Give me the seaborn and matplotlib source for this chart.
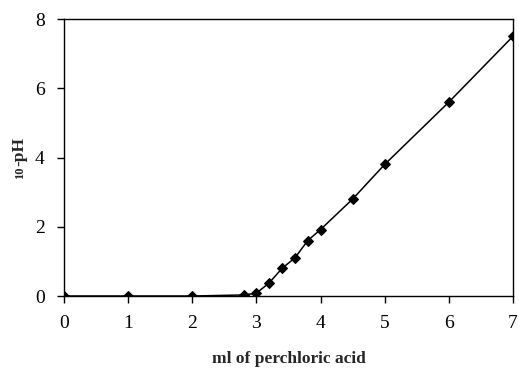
import pandas as pd
import seaborn as sns
from matplotlib import pyplot as plt

ml_acid = [0, 1, 2, 2.8, 3.0, 3.2, 3.4, 3.6, 3.8, 4.0, 4.5, 5.0, 6.0, 7.0]
ten_minus_ph = [0, 0, 0, 0.03, 0.08, 0.38, 0.8, 1.1, 1.6, 1.92, 2.8, 3.8, 5.6, 7.5]

df = pd.DataFrame({"ml": ml_acid, "y": ten_minus_ph})

sns.set_style("ticks")
plt.rcParams['font.family'] = ['Liberation Serif', 'DejaVu Serif']

fig = plt.figure(figsize=(5.19, 3.72), dpi=100)
ax = fig.add_axes([0.1233, 0.2043, 0.8651, 0.7446])

sns.lineplot(data=df, x="ml", y="y", ax=ax, color="black", linewidth=1.1,
             marker="D", markersize=5, markeredgecolor="black", markerfacecolor="black")

ax.set_xlim(0, 7)
ax.set_ylim(0, 8)
ax.set_xticks(range(0, 8))
ax.set_yticks(range(0, 9, 2))
ax.tick_params(axis="both", direction="out", length=5, width=1, colors="black",
               labelsize=14)
ax.tick_params(axis="x", pad=9)
ax.tick_params(axis="y", pad=9)
for s in ax.spines.values():
    s.set_color("black")
    s.set_linewidth(1.0)

ax.set_xlabel("ml of perchloric acid", fontsize=12.5, fontweight="bold")
ax.xaxis.set_label_coords(0.5, -0.2)
ax.set_ylabel("")

# y label: small "10" followed by "-pH", same baseline
ax.text(-0.0913, 0.469, "-pH", transform=ax.transAxes, rotation=90,
        rotation_mode="anchor", ha="left", va="baseline",
        fontsize=12.5, fontweight="bold")
ax.text(-0.0913, 0.469, "10", transform=ax.transAxes, rotation=90,
        rotation_mode="anchor", ha="right", va="baseline",
        fontsize=9, fontweight="bold")

fig.savefig("out.png", dpi=100)
